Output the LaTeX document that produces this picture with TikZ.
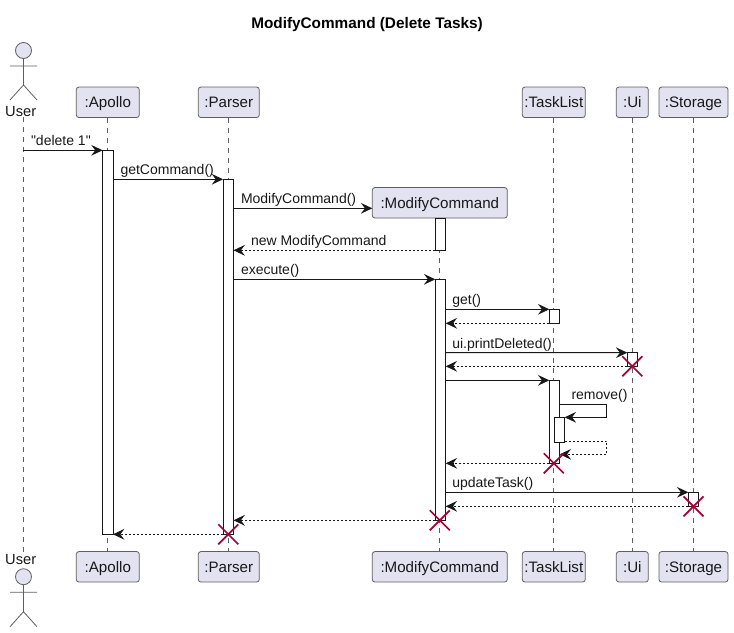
\documentclass[tikz,border=0pt]{standalone}
\usepackage{fontspec}
\setmainfont{Liberation Sans}
\newfontfamily\plainfont{Liberation Sans}
\usetikzlibrary{arrows.meta,calc}
\definecolor{partfill}{HTML}{E2E2F0}
\definecolor{partdraw}{HTML}{5F5F5F}
\definecolor{ink}{HTML}{181818}
\definecolor{crossred}{HTML}{A80036}
\newcommand{\pxu}{0.75pt}
\tikzset{
  part/.style={draw=partdraw,fill=partfill,line width=0.6pt,rounded corners=2pt,inner sep=0pt,outer sep=0pt,minimum height=30.5*\pxu,text height=9.75pt,text depth=1.5pt,font=\fontsize{11.35pt}{13pt}\selectfont,text=ink},
  actname/.style={inner sep=0pt,outer sep=0pt,minimum height=12pt,font=\fontsize{11pt}{13pt}\selectfont,text=ink},
  life/.style={draw=partdraw,line width=0.5pt,dash pattern=on 3.75pt off 3.75pt},
  act/.style={draw=ink,fill=white,line width=0.75pt,inner sep=0pt,outer sep=0pt,minimum width=10.4*\pxu},
  msg/.style={draw=ink,line width=0.75pt,-{Stealth[length=8.5pt,width=8pt,inset=3pt,color=ink]}},
  ret/.style={msg,dash pattern=on 1.5pt off 1.5pt},
  lbl/.style={anchor=west,inner sep=0pt,outer sep=0pt,text height=7.5pt,text depth=2pt,font=\fontsize{10.5pt}{12pt}\selectfont,text=ink},
  actor/.style={draw=partdraw,line width=0.6pt},
  head/.style={circle,draw=partdraw,fill=partfill,line width=0.6pt,minimum size=16*\pxu,inner sep=0pt,outer sep=0pt},
  kill/.style={draw=crossred,line width=1.3pt},
}
\begin{document}
\begin{tikzpicture}[x=0.75pt,y=-0.75pt]
\useasboundingbox (0,0) rectangle (734,632);
\node[font=\bfseries\fontsize{11.5pt}{13pt}\selectfont,text=black] (title) at (367,25) {ModifyCommand (Delete Tasks)};
% y levels
\foreach \n/\v in {a/150.3,b/179.3,c/208.3,d/250.3,e/279.3,f/309.3,g/323.3,h/352.7,i/366.3,j/380.3,k/404.3,l/417.3,m/441.3,n/454.3,o/463.3,p/492.3,q/506.3,r/520.3,s/534.3}
  \coordinate (y\n) at (0,\v);
\coordinate (xself) at (606.7,0);
% participants
\node[actname] (userT) at (20.7,111.5) {User};
\node[actname] (userB) at (20.7,560) {User};
\coordinate (userLT) at (23.3,117);
\coordinate (userLB) at (23.3,553);
\node[part,minimum width=63*\pxu] (apolloT) at (107.8,102.3) {:Apollo};
\node[part,minimum width=63*\pxu] (apolloB) at (107.8,566.8) {:Apollo};
\node[part,minimum width=61*\pxu] (parserT) at (228.8,102.3) {:Parser};
\node[part,minimum width=61*\pxu] (parserB) at (228.8,566.8) {:Parser};
\node[part,minimum width=135*\pxu] (modT) at (439.8,202.8) {:ModifyCommand};
\node[part,minimum width=135*\pxu] (modB) at (439.8,566.8) {:ModifyCommand};
\node[part,minimum width=63*\pxu] (taskT) at (553.8,102.3) {:TaskList};
\node[part,minimum width=63*\pxu] (taskB) at (553.8,566.8) {:TaskList};
\node[part,minimum width=32*\pxu] (uiT) at (632.3,102.3) {:Ui};
\node[part,minimum width=32*\pxu] (uiB) at (632.3,566.8) {:Ui};
\node[part,minimum width=69*\pxu] (storT) at (693.5,102.3) {:Storage};
\node[part,minimum width=69*\pxu] (storB) at (693.5,566.8) {:Storage};
% lifelines
\draw[life] (userLT) -- (userLB);
\draw[life] (apolloT.south) -- (apolloB.north);
\draw[life] (parserT.south) -- (parserB.north);
\draw[life] (modT.south) -- (modB.north);
\draw[life] (taskT.south) -- (taskB.north);
\draw[life] (uiT.south) -- (uiB.north);
\draw[life] (storT.south) -- (storB.north);
% actors
\node[head] (headT) at (23.5,50.5) {};
\coordinate (hipT) at (23.5,85);
\coordinate (armLT) at (10,66);
\coordinate (armRT) at (37,66);
\coordinate (footLT) at (10,100);
\coordinate (footRT) at (37,100);
\draw[actor] (headT.south) -- (hipT) (armLT) -- (armRT) (footLT) -- (hipT) -- (footRT);
\node[head] (headB) at (23.5,576.7) {};
\coordinate (hipB) at (23.5,611.7);
\coordinate (armLB) at (10,592.3);
\coordinate (armRB) at (37,592.3);
\coordinate (footLB) at (10,626.7);
\coordinate (footRB) at (37,626.7);
\draw[actor] (headB.south) -- (hipB) (armLB) -- (armRB) (footLB) -- (hipB) -- (footRB);
% activations
\node[act,minimum height=384*\pxu] (a1) at (107.8,342.3) {};
\node[act,minimum height=355*\pxu] (p1) at (228.3,356.8) {};
\node[act,minimum height=32*\pxu] (m0) at (440.5,234.3) {};
\node[act,minimum height=241*\pxu] (m1) at (440.5,399.8) {};
\node[act,minimum height=14*\pxu] (t1) at (554.5,316.3) {};
\node[act,minimum height=13.6*\pxu] (u1) at (632.5,359.5) {};
\node[act,minimum height=83*\pxu] (t2) at (554.5,421.8) {};
\node[act,minimum height=25*\pxu] (t3) at (559.5,429.8) {};
\node[act,minimum height=14*\pxu] (s1) at (693.5,499.3) {};
% messages
\draw[msg] (userLT |- ya) -- (a1.west |- ya);
\draw[msg] (a1.east |- yb) -- (p1.north west);
\draw[msg] (p1.east |- yc) -- (modT.west |- yc);
\draw[ret] (m0.west |- yd) -- (p1.east |- yd);
\draw[msg] (p1.east |- ye) -- (m1.north west);
\draw[msg] (m1.east |- yf) -- (t1.north west);
\draw[ret] (t1.west |- yg) -- (m1.east |- yg);
\draw[msg] (m1.east |- yh) -- (u1.north west);
\draw[ret] (u1.west |- yi) -- (m1.east |- yi);
\draw[msg] (m1.east |- yj) -- (t2.north west);
\draw[msg] (t2.east |- yk) -- (xself |- yk) -- (xself |- yl) -- (t3.east |- yl);
\draw[ret] (t3.east |- ym) -- (xself |- ym) -- (xself |- yn) -- (t2.east |- yn);
\draw[ret] (t2.west |- yo) -- (m1.east |- yo);
\draw[msg] (m1.east |- yp) -- (s1.north west);
\draw[ret] (s1.west |- yq) -- (m1.east |- yq);
\draw[ret] (m1.west |- yr) -- (p1.east |- yr);
\draw[ret] (p1.west |- ys) -- (a1.east |- ys);
% labels
\node[lbl] (l1) at (31,142) {\plainfont "delete 1"};
\node[lbl] (l2) at (120.5,171.2) {getCommand()};
\node[lbl] (l3) at (241,200.2) {ModifyCommand()};
\node[lbl] (l4) at (251,242) {new ModifyCommand};
\node[lbl] (l5) at (241,271.2) {execute()};
\node[lbl] (l6) at (452.3,301) {get()};
\node[lbl] (l7) at (452.3,344.5) {ui.printDeleted()};
\node[lbl] (l8) at (571.5,396.2) {remove()};
\node[lbl] (l9) at (452.3,484) {updateTask()};
% destructions
\foreach \nm/\x/\yy in {xu/632.3/366.3,xt/553.8/463.3,xs/693.5/506.3,xm/439.8/520.3,xp/228.3/534.3}{
  \coordinate (\nm) at (\x,\yy);
  \draw[kill] ($(\nm)+(-10,-10)$) -- ($(\nm)+(10,10)$) ($(\nm)+(-10,10)$) -- ($(\nm)+(10,-10)$);
}
\end{tikzpicture}
\end{document}
